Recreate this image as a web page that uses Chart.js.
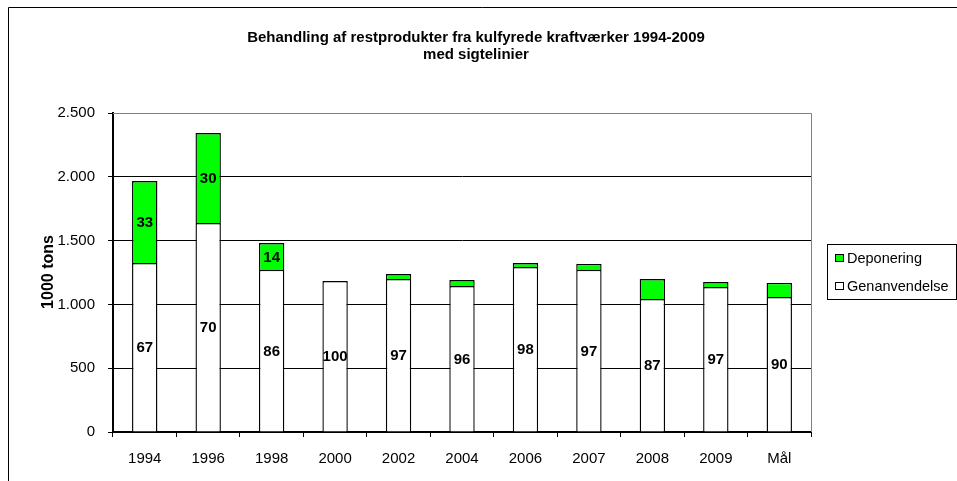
<!DOCTYPE html>
<html>
<head>
<meta charset="utf-8">
<script src="https://cdn.jsdelivr.net/npm/chart.js@4.4.1/dist/chart.umd.min.js"></script>
<style>
  html, body { margin: 0; padding: 0; background: #fff; }
  #wrap { width: 957px; height: 481px; }
</style>
</head>
<body>
<div id="wrap"><canvas id="chart" width="957" height="481"></canvas></div>
<script>
const years = ['1994', '1996', '1998', '2000', '2002', '2004', '2006', '2007', '2008', '2009', 'Mål'];
const genanvendelse = [1324, 1638, 1270, 1183, 1199, 1144, 1293, 1270, 1042, 1136, 1058];
const deponering = [643, 705, 211, 0, 39, 47, 31, 47, 157, 39, 110];
const genLabels = ['67', '70', '86', '100', '97', '96', '98', '97', '87', '97', '90'];
const depLabels = ['33', '30', '14', '', '', '', '', '', '', '', ''];
const titleLines = ['Behandling af restprodukter fra kulfyrede kraftværker 1994-2009', 'med sigtelinier'];

const FONT = 'Arial, "Liberation Sans", sans-serif';

function danish(v) {
  return String(v).replace(/\B(?=(\d{3})+(?!\d))/g, '.');
}

const extras = {
  id: 'extras',
  beforeDraw(chart) {
    const ctx = chart.ctx;
    ctx.save();
    ctx.fillStyle = '#fff';
    ctx.fillRect(0, 0, chart.width, chart.height);
    ctx.restore();
  },
  afterDraw(chart) {
    const ctx = chart.ctx;
    const a = chart.chartArea;
    ctx.save();
    // outer frame
    ctx.strokeStyle = '#000';
    ctx.lineWidth = 1;
    ctx.beginPath();
    ctx.moveTo(8.5, 481);
    ctx.lineTo(8.5, 7.5);
    ctx.lineTo(957, 7.5);
    ctx.stroke();
    // plot area border top/right
    ctx.strokeStyle = '#808080';
    ctx.beginPath();
    ctx.moveTo(a.left, a.top + 0.5);
    ctx.lineTo(a.right + 0.5, a.top + 0.5);
    ctx.lineTo(a.right + 0.5, a.bottom);
    ctx.stroke();

    // title
    ctx.fillStyle = '#000';
    ctx.font = 'bold 15px ' + FONT;
    ctx.textAlign = 'center';
    ctx.textBaseline = 'alphabetic';
    ctx.fillText(titleLines[0], 476, 42);
    ctx.fillText(titleLines[1], 476, 59);

    // y title
    ctx.textBaseline = 'middle';
    ctx.font = 'bold 16px ' + FONT;
    ctx.save();
    ctx.translate(49, 272);
    ctx.rotate(-Math.PI / 2);
    ctx.fillText('1000 tons', 0, 0);
    ctx.restore();

    // segment labels
    ctx.font = 'bold 15px ' + FONT;
    const metaG = chart.getDatasetMeta(0);
    const metaD = chart.getDatasetMeta(1);
    metaG.data.forEach((bar, i) => {
      ctx.fillText(genLabels[i], bar.x, (bar.y + bar.base) / 2 + 1);
    });
    metaD.data.forEach((bar, i) => {
      if (depLabels[i]) ctx.fillText(depLabels[i], bar.x, (bar.y + bar.base) / 2 + 1);
    });

    // legend
    ctx.strokeStyle = '#000';
    ctx.strokeRect(827.5, 244.5, 129, 55);
    ctx.fillStyle = '#00ff00';
    ctx.fillRect(835.5, 254.5, 8, 7);
    ctx.strokeRect(835.5, 254.5, 8, 7);
    ctx.fillStyle = '#fff';
    ctx.fillRect(835.5, 282.5, 8, 7);
    ctx.strokeRect(835.5, 282.5, 8, 7);
    ctx.fillStyle = '#000';
    ctx.font = '14.5px ' + FONT;
    ctx.textAlign = 'left';
    ctx.fillText('Deponering', 847, 259);
    ctx.fillText('Genanvendelse', 847, 287);
    ctx.restore();
  }
};

new Chart(document.getElementById('chart'), {
  type: 'bar',
  data: {
    labels: years,
    datasets: [
      {
        label: 'Genanvendelse',
        data: genanvendelse,
        backgroundColor: '#fff',
        borderColor: '#000',
        borderWidth: 1.4,
        barPercentage: 0.4,
        categoryPercentage: 1,
      },
      {
        label: 'Deponering',
        data: deponering,
        backgroundColor: '#00ff00',
        borderColor: '#000',
        borderWidth: 1.4,
        barPercentage: 0.4,
        categoryPercentage: 1,
      },
    ],
  },
  options: {
    responsive: false,
    animation: false,
    devicePixelRatio: 1,
    layout: {
      padding: { top: 113, left: 0, right: 146, bottom: 4 },
    },
    plugins: {
      legend: { display: false },
      title: { display: false },
      tooltip: { enabled: false },
    },
    scales: {
      x: {
        stacked: true,
        afterFit(scale) { scale.height = 45; },
        grid: {
          offset: true,
          drawOnChartArea: false,
          drawTicks: true,
          tickLength: 5,
          color: '#000',
        },
        border: { color: '#000', width: 2 },
        ticks: {
          color: '#000',
          padding: 13,
          font: { family: FONT, size: 15 },
          maxRotation: 0,
        },
      },
      y: {
        stacked: true,
        min: 0,
        max: 2500,
        afterFit(scale) { scale.width = 113; },
        grid: {
          color: '#000',
          lineWidth: 1,
          tickLength: 5,
        },
        border: { color: '#000', width: 2 },
        ticks: {
          stepSize: 500,
          color: '#000',
          padding: 13,
          font: { family: FONT, size: 15 },
          callback: (v) => danish(v),
        },
      },
    },
  },
  plugins: [extras],
});
</script>
</body>
</html>
